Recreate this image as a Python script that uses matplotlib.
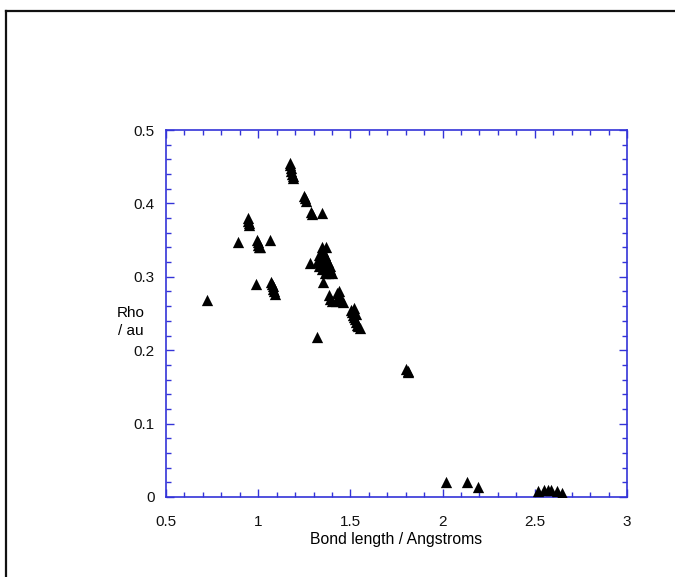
import matplotlib
matplotlib.use("Agg")
import matplotlib.pyplot as plt
from matplotlib.lines import Line2D
from matplotlib.ticker import MultipleLocator

plt.rcParams['font.family'] = ['Liberation Sans', 'DejaVu Sans']

bond_length = [
    1.17, 1.175, 1.18, 1.18, 1.185, 1.19, 1.19,
    1.25, 1.255, 1.26,
    1.285, 1.29, 1.345,
    0.945, 0.945, 0.95, 0.95,
    0.89,
    0.995, 1.0, 1.0, 1.005, 1.01,
    1.065, 0.99,
    1.07, 1.075, 1.08, 1.08, 1.085, 1.09,
    0.725,
    1.345, 1.37, 1.28, 1.33, 1.34, 1.35, 1.36, 1.33, 1.345, 1.36, 1.37, 1.38,
    1.39, 1.40, 1.35, 1.32, 1.38, 1.39, 1.36, 1.37,
    1.35,
    1.385, 1.39, 1.40,
    1.43, 1.44, 1.445, 1.45, 1.46, 1.42,
    1.505, 1.51, 1.515, 1.52, 1.525, 1.53, 1.535, 1.54, 1.55, 1.52, 1.53,
    1.32,
    1.80, 1.81, 1.815,
    2.02, 2.13, 2.19,
    2.52, 2.55, 2.57, 2.59, 2.62, 2.65,
]
rho = [
    0.455, 0.452, 0.448, 0.444, 0.440, 0.437, 0.435,
    0.410, 0.407, 0.403,
    0.388, 0.386, 0.387,
    0.380, 0.376, 0.373, 0.370,
    0.347,
    0.350, 0.347, 0.344, 0.341, 0.340,
    0.350, 0.290,
    0.293, 0.290, 0.287, 0.283, 0.280, 0.277,
    0.268,
    0.340, 0.340, 0.319, 0.330, 0.325, 0.320, 0.315, 0.315, 0.310, 0.305, 0.310, 0.305,
    0.310, 0.305, 0.335, 0.320, 0.320, 0.315, 0.330, 0.325,
    0.293,
    0.275, 0.270, 0.267,
    0.278, 0.280, 0.272, 0.268, 0.265, 0.267,
    0.255, 0.252, 0.248, 0.245, 0.242, 0.238, 0.235, 0.233, 0.230, 0.257, 0.250,
    0.218,
    0.175, 0.172, 0.170,
    0.020, 0.020, 0.014,
    0.008, 0.009, 0.010, 0.009, 0.008, 0.006,
]

x_ticks = [0.5, 1, 1.5, 2, 2.5, 3]
x_tick_labels = ['0.5', '1', '1.5', '2', '2.5', '3']
y_ticks = [0, 0.1, 0.2, 0.3, 0.4, 0.5]
y_tick_labels = ['0', '0.1', '0.2', '0.3', '0.4', '0.5']

W, H = 675, 577
fig = plt.figure(figsize=(W / 100, H / 100), dpi=100)
ax = fig.add_axes([166 / W, 1 - 497 / H, (627 - 166) / W, (497 - 130) / H])

ax.scatter(bond_length, rho, marker='^', s=66, color='black', linewidths=0, zorder=3)

blue = '#3434d8'
ax.set_xlim(0.5, 3)
ax.set_ylim(0, 0.5)
ax.set_xticks(x_ticks)
ax.set_xticklabels(x_tick_labels)
ax.set_yticks(y_ticks)
ax.set_yticklabels(y_tick_labels)
ax.xaxis.set_minor_locator(MultipleLocator(0.1))
ax.yaxis.set_minor_locator(MultipleLocator(0.02))
for s in ax.spines.values():
    s.set_color(blue)
    s.set_linewidth(1.2)
ax.tick_params(which='both', direction='in', top=True, right=True, color=blue,
               labelsize=11, labelcolor='#111111')
ax.tick_params(which='major', length=6, width=1.0)
ax.tick_params(which='minor', length=3.5, width=1.0)
ax.tick_params(axis='x', which='major', pad=13)
ax.tick_params(axis='y', which='major', pad=8)

ax.set_xlabel('Bond length / Angstroms', fontsize=11.3, labelpad=2)
fig.text(131 / W, 1 - 322 / H, 'Rho\n/ au', fontsize=11, ha='center', va='center',
         linespacing=1.3)

# figure frame lines (top and left)
fig.add_artist(Line2D([6 / W, 1.0], [1 - 11 / H, 1 - 11 / H], transform=fig.transFigure,
                      color='#111111', linewidth=1.6))
fig.add_artist(Line2D([6 / W, 6 / W], [0.0, 1 - 11 / H], transform=fig.transFigure,
                      color='#111111', linewidth=1.6))

fig.savefig('out.png', dpi=100)
